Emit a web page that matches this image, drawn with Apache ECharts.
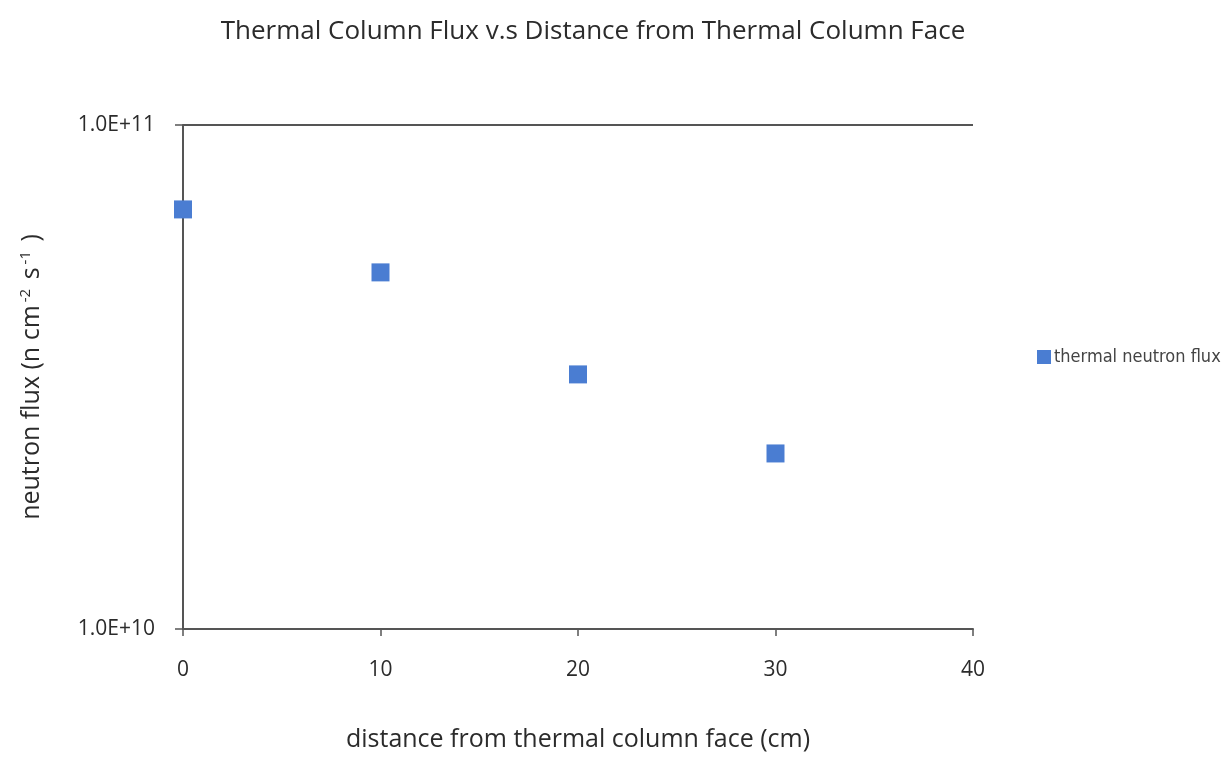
<!DOCTYPE html>
<html>
<head>
<meta charset="utf-8">
<script src="https://cdn.jsdelivr.net/npm/echarts@6/dist/echarts.min.js"></script>
<style>html,body{margin:0;padding:0;background:#fff;overflow:hidden;}#c{width:1228px;height:757px;}</style>
</head>
<body>
<div id="c"></div>
<script>
const distances = [0, 10, 20, 30];
const fluxValues = [6.8e10, 5.1e10, 3.2e10, 2.23e10];
const seriesName = 'thermal neutron flux';
const titleText = 'Thermal Column Flux v.s Distance from Thermal Column Face';
const xAxisName = 'distance from thermal column face (cm)';

const chart = echarts.init(document.getElementById('c'));
chart.setOption({
  backgroundColor: '#ffffff',
  animation: false,
  title: {
    text: titleText,
    left: 588, top: 14, textAlign: 'center',
    textStyle: {fontFamily: 'Open Sans', fontSize: 26, fontWeight: 'normal', color: '#2b2b2b'}
  },
  legend: {
    left: 1032, top: 343,
    itemWidth: 14, itemHeight: 14, itemGap: 3,
    icon: 'rect',
    textStyle: {fontFamily: 'Liberation Sans Narrow, DejaVu Sans Condensed, sans-serif', fontSize: 18, color: '#444', padding: [0,0,0,-2]},
    data: [seriesName]
  },
  grid: {left: 183, width: 790, top: 125, height: 507},
  xAxis: {
    type: 'value', min: 0, max: 40, interval: 10,
    name: xAxisName, nameLocation: 'middle', nameGap: 98,
    nameTextStyle: {fontFamily: 'Open Sans', fontSize: 25, color: '#2b2b2b'},
    axisLine: {show: true, lineStyle: {color: '#555', width: 2}},
    axisTick: {show: true, inside: false, length: 7, lineStyle: {color: '#555', width: 1.5}},
    axisLabel: {fontFamily: 'Open Sans', fontSize: 21, color: '#2b2b2b', margin: 31},
    splitLine: {show: false}
  },
  yAxis: {
    type: 'log', logBase: 10, min: 1e10, max: 1e11,
    name: 'neutron flux (n cm{sup|-2} s{sup|-1} )', nameLocation: 'middle', nameGap: 138,
    nameTextStyle: {fontFamily: 'Open Sans', fontSize: 25, color: '#2b2b2b',
      rich: {sup: {fontFamily: 'Open Sans', fontSize: 15, color: '#2b2b2b', verticalAlign: 'top', padding: [0,3,12,3]}}},
    axisLine: {show: true, lineStyle: {color: '#555', width: 2}},
    axisTick: {show: true, inside: false, length: 8, lineStyle: {color: '#555', width: 1.5}},
    axisLabel: {fontFamily: 'Open Sans', fontSize: 21, color: '#2b2b2b', margin: 28,
      formatter: v => v.toExponential(1).toUpperCase()},
    splitLine: {show: true, lineStyle: {color: '#555', width: 2}},
    minorTick: {show: false}
  },
  series: [{
    name: seriesName,
    type: 'scatter',
    symbol: 'rect',
    symbolSize: 18,
    clip: false,
    itemStyle: {color: '#4A7DD2', opacity: 1},
    data: distances.map((d, i) => [d, fluxValues[i]])
  }]
});
</script>
</body>
</html>
